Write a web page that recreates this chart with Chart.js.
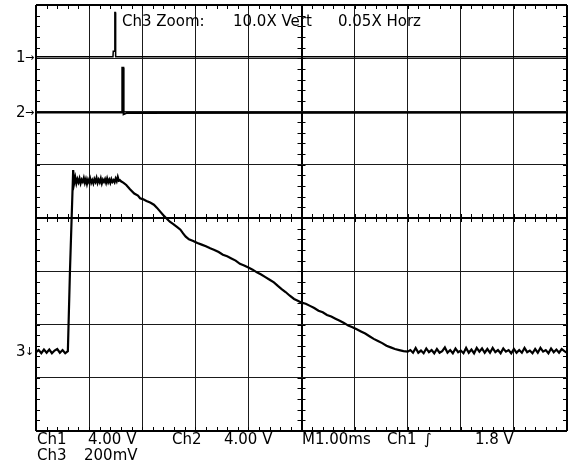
<!DOCTYPE html>
<html>
<head>
<meta charset="utf-8">
<script src="https://cdn.jsdelivr.net/npm/chart.js@4.4.1/dist/chart.umd.min.js"></script>
<style>
  html, body { margin: 0; padding: 0; background: #fff; }
  #wrap { width: 571px; height: 464px; }
</style>
</head>
<body>
<div id="wrap"><canvas id="scope" width="571" height="464"></canvas></div>
<script>
// time axis in divisions (1.00 ms / div), level in divisions from screen centre
var ch1Time  = [0, 1.45, 1.455, 1.48, 1.485, 1.495, 1.50, 10];
var ch1Level = [3.03, 3.03, 3.13, 3.13, 3.86, 3.86, 3.03, 3.03];

var ch2Time  = [0, 1.62, 1.625, 1.645, 1.65, 1.70, 10];
var ch2Level = [1.98, 1.98, 2.82, 2.82, 1.95, 1.97, 1.98];

var ch3Time = [
  0, 0.05, 0.1, 0.15, 0.2, 0.25, 0.3, 0.35, 0.4, 0.45, 0.5, 0.55, 0.6,
  0.64, 0.70,
  0.72, 0.74, 0.76, 0.78, 0.80, 0.82, 0.84, 0.86, 0.88, 0.90, 0.92, 0.94, 0.96,
  0.98, 1.00, 1.02, 1.04, 1.06, 1.08, 1.10, 1.12, 1.14, 1.16, 1.18, 1.20, 1.22,
  1.24, 1.26, 1.28, 1.30, 1.32, 1.34, 1.36, 1.38, 1.40, 1.42, 1.44, 1.46, 1.48,
  1.50, 1.52, 1.54, 1.56, 1.58, 1.60,
  1.65, 1.70, 1.77, 1.85, 1.92, 1.96, 2.02, 2.08, 2.15, 2.22, 2.28, 2.34, 2.39,
  2.45, 2.52, 2.58, 2.66, 2.72, 2.77, 2.82, 2.88, 2.96, 3.04, 3.12, 3.20, 3.28,
  3.36, 3.44, 3.52, 3.60, 3.68, 3.76, 3.84, 3.92, 4.00, 4.08, 4.16, 4.24, 4.32,
  4.40, 4.48, 4.56, 4.62, 4.70, 4.78, 4.86, 4.94, 5.00, 5.08, 5.16, 5.24, 5.32,
  5.40, 5.48, 5.56, 5.64, 5.72, 5.80, 5.88, 5.96, 6.04, 6.12, 6.20, 6.28, 6.36,
  6.44, 6.52, 6.60, 6.68, 6.76, 6.84, 6.92, 7.00,
  7.05, 7.10, 7.15, 7.20, 7.25, 7.30, 7.35, 7.40, 7.45, 7.50, 7.55, 7.60, 7.65,
  7.70, 7.75, 7.80, 7.85, 7.90, 7.95, 8.00, 8.05, 8.10, 8.15, 8.20, 8.25, 8.30,
  8.35, 8.40, 8.45, 8.50, 8.55, 8.60, 8.65, 8.70, 8.75, 8.80, 8.85, 8.90, 8.95,
  9.00, 9.05, 9.10, 9.15, 9.20, 9.25, 9.30, 9.35, 9.40, 9.45, 9.50, 9.55, 9.60,
  9.65, 9.70, 9.75, 9.80, 9.85, 9.90, 9.95, 10.00
];
var ch3Level = [
  -2.52, -2.48, -2.54, -2.47, -2.53, -2.47, -2.54, -2.49, -2.46, -2.53, -2.48, -2.54, -2.50,
  -0.98, 0.90,
  0.66, 0.76, 0.65, 0.73, 0.67, 0.74, 0.65, 0.72, 0.68, 0.75, 0.66, 0.73, 0.64,
  0.72, 0.67, 0.74, 0.66, 0.71, 0.65, 0.73, 0.68, 0.75, 0.66, 0.72, 0.67, 0.74,
  0.65, 0.72, 0.68, 0.73, 0.66, 0.74, 0.67, 0.72, 0.66, 0.73, 0.68, 0.71, 0.67,
  0.74, 0.69, 0.77, 0.70, 0.71, 0.69,
  0.66, 0.62, 0.54, 0.46, 0.42, 0.37, 0.35, 0.32, 0.29, 0.25, 0.19, 0.12, 0.06,
  0.00, -0.07, -0.11, -0.17, -0.22, -0.29, -0.35, -0.40, -0.43, -0.47, -0.50, -0.53, -0.57,
  -0.60, -0.64, -0.69, -0.72, -0.76, -0.80, -0.86, -0.89, -0.93, -0.97, -1.02, -1.06, -1.11,
  -1.16, -1.21, -1.28, -1.33, -1.39, -1.46, -1.52, -1.56, -1.59, -1.61, -1.65, -1.69, -1.74,
  -1.77, -1.82, -1.85, -1.89, -1.93, -1.97, -2.02, -2.05, -2.09, -2.13, -2.17, -2.22, -2.27,
  -2.31, -2.35, -2.40, -2.43, -2.46, -2.48, -2.50, -2.51,
  -2.48, -2.53, -2.44, -2.53, -2.49, -2.54, -2.45, -2.52, -2.48, -2.54, -2.46, -2.53, -2.50,
  -2.43, -2.53, -2.48, -2.54, -2.45, -2.52, -2.49, -2.54, -2.44, -2.53, -2.47, -2.54, -2.44,
  -2.51, -2.45, -2.53, -2.46, -2.53, -2.44, -2.52, -2.48, -2.54, -2.45, -2.51, -2.48, -2.54,
  -2.46, -2.53, -2.48, -2.53, -2.44, -2.52, -2.49, -2.54, -2.46, -2.53, -2.44, -2.51, -2.48,
  -2.54, -2.45, -2.52, -2.47, -2.53, -2.46, -2.50, -2.53
];

// channel ground markers (level in divisions) and readout texts
var markerDigit = ['1', '2', '3'];
var markerArrow = ['\u2192', '\u2192', '\u2193'];
var markerLevel = [3.0, 1.97, -2.52];

var topText = ['Ch3 Zoom:', '10.0X Vert', '0.05X Horz'];
var topX    = [122, 233, 338];
var readRow1 = ['Ch1', '4.00 V', 'Ch2', '4.00 V', 'M1.00ms', 'Ch1', '\u222B', '1.8 V'];
var readRow1X = [37, 88, 172, 224, 302, 387, 424, 475];
var readRow2 = ['Ch3', '200mV'];
var readRow2X = [37, 84];

function toPoints(xs, ys) {
  var pts = [];
  for (var i = 0; i < xs.length; i++) {
    pts.push({x: xs[i], y: ys[i]});
  }
  return pts;
}

function trace(xs, ys, w) {
  return {
    data: toPoints(xs, ys),
    borderColor: '#000',
    borderWidth: w,
    pointRadius: 0,
    tension: 0,
    fill: false
  };
}

var FONT = '15px "DejaVu Sans", sans-serif';
var ARROW_FONT = '11px "DejaVu Sans", sans-serif';

function gridWidth(lo, hi, mid) {
  return function(c) {
    var v = c.tick ? c.tick.value : null;
    if (v === lo || v === hi || v === mid) return 2;
    return 1;
  };
}
function gridColor(lo, hi, mid) {
  return function(c) {
    var v = c.tick ? c.tick.value : null;
    if (v === lo || v === hi || v === mid) return '#000';
    return '#1a1a1a';
  };
}

// little graticule ticks every 0.2 div on the frame and on the centre cross
var minorTicks = {
  id: 'minorTicks',
  beforeDatasetsDraw: function(chart) {
    var ctx = chart.ctx, a = chart.chartArea;
    var xs = chart.scales.x, ys = chart.scales.y;
    var cx = xs.getPixelForValue(5), cy = ys.getPixelForValue(0);
    ctx.save();
    ctx.strokeStyle = '#000';
    ctx.lineWidth = 1;
    ctx.beginPath();
    for (var i = 0; i <= 50; i++) {
      var px = Math.round(xs.getPixelForValue(i * 0.2)) + 0.5;
      ctx.moveTo(px, a.top); ctx.lineTo(px, a.top + 4);
      ctx.moveTo(px, a.bottom); ctx.lineTo(px, a.bottom - 4);
      ctx.moveTo(px, cy - 4); ctx.lineTo(px, cy + 4);
    }
    for (var j = 0; j <= 40; j++) {
      var py = Math.round(ys.getPixelForValue(-4 + j * 0.2)) + 0.5;
      ctx.moveTo(a.left, py); ctx.lineTo(a.left + 4, py);
      ctx.moveTo(a.right, py); ctx.lineTo(a.right - 4, py);
      ctx.moveTo(cx - 4, py); ctx.lineTo(cx + 4, py);
    }
    ctx.stroke();
    ctx.restore();
  }
};

var readouts = {
  id: 'readouts',
  afterDraw: function(chart) {
    var ctx = chart.ctx, a = chart.chartArea;
    var ys = chart.scales.y;
    ctx.save();
    ctx.fillStyle = '#000';
    ctx.font = FONT;
    ctx.textBaseline = 'alphabetic';
    ctx.textAlign = 'left';
    for (var i = 0; i < topText.length; i++) {
      ctx.fillText(topText[i], topX[i], a.top + 21);
    }
    for (var j = 0; j < readRow1.length; j++) {
      ctx.fillText(readRow1[j], readRow1X[j], a.bottom + 13);
    }
    for (var k = 0; k < readRow2.length; k++) {
      ctx.fillText(readRow2[k], readRow2X[k], a.bottom + 29);
    }
    for (var m = 0; m < markerDigit.length; m++) {
      var my = ys.getPixelForValue(markerLevel[m]);
      ctx.font = FONT;
      ctx.textBaseline = 'middle';
      ctx.fillText(markerDigit[m], a.left - 20, my);
      ctx.font = ARROW_FONT;
      ctx.fillText(markerArrow[m], a.left - 11, my);
    }
    ctx.restore();
  }
};

new Chart(document.getElementById('scope'), {
  type: 'line',
  data: {
    datasets: [
      trace(ch1Time, ch1Level, 1.5),
      trace(ch2Time, ch2Level, 2),
      trace(ch3Time, ch3Level, 2.2)
    ]
  },
  options: {
    responsive: false,
    animation: false,
    devicePixelRatio: 1,
    layout: { padding: { left: 36, right: 4, top: 5, bottom: 33 } },
    plugins: { legend: { display: false }, tooltip: { enabled: false } },
    scales: {
      x: {
        type: 'linear', min: 0, max: 10,
        ticks: { display: false, stepSize: 1 },
        grid: { drawTicks: false, color: gridColor(0, 10, 5), lineWidth: gridWidth(0, 10, 5) },
        border: { display: false }
      },
      y: {
        type: 'linear', min: -4, max: 4,
        ticks: { display: false, stepSize: 1 },
        grid: { drawTicks: false, color: gridColor(-4, 4, 0), lineWidth: gridWidth(-4, 4, 0) },
        border: { display: false }
      }
    }
  },
  plugins: [minorTicks, readouts]
});
</script>
</body>
</html>
